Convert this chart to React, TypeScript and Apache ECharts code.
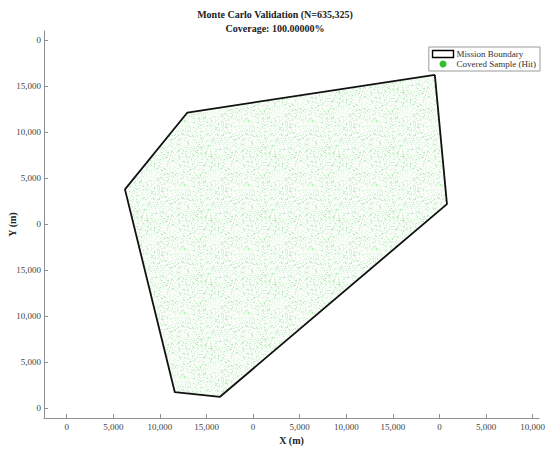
import React, { useEffect, useRef } from "react";
import * as echarts from "echarts";

// Mission boundary vertices (data units, metres)
const boundaryX = [39500, 40800, 16450, 11600, 6250, 12950];
const boundaryY = [36250, 22200, 1250, 1750, 23800, 32150];

// Tick positions and the labels printed at them
const xTickValues = [0, 5000, 10000, 15000, 20000, 25000, 30000, 35000, 40000, 45000, 50000];
const xTickLabels = ["0", "5,000", "10,000", "15,000", "0", "5,000", "10,000", "15,000", "0", "5,000", "10,000"];
const yTickValues = [0, 5000, 10000, 15000, 20000, 25000, 30000, 35000, 40000];
const yTickLabels = ["0", "5,000", "10,000", "15,000", "0", "5,000", "10,000", "15,000", "0"];

const xRange = [-2436, 50676];
const yRange = [-1054, 41011];

const titleText = "Monte Carlo Validation (N=635,325)";
const subTitleText = "Coverage: 100.00000%";
const boundaryName = "Mission Boundary";
const sampleName = "Covered Sample (Hit)";

const FONT = "'Liberation Serif', 'Times New Roman', serif";

function makeSpeckleTexture(): string {
  const size = 64;
  const c = document.createElement("canvas");
  c.width = size;
  c.height = size;
  const ctx = c.getContext("2d");
  if (!ctx) return "";
  ctx.fillStyle = "rgb(248,253,248)";
  ctx.fillRect(0, 0, size, size);
  for (let i = 0; i < size; i++) {
    for (let j = 0; j < size; j++) {
      let h = (Math.imul(i + 1, 73856093) ^ Math.imul(j + 7, 19349663)) >>> 0;
      h = Math.imul(h ^ (h >>> 13), 1274126177) >>> 0;
      const v = (h >>> 8) % 100;
      if (v < 26) {
        ctx.fillStyle = v < 5 ? "rgb(182,229,182)" : "rgb(222,243,222)";
        ctx.fillRect(i, j, 1, 1);
      }
    }
  }
  return c.toDataURL();
}

export default function App() {
  const ref = useRef<HTMLDivElement>(null);

  useEffect(() => {
    document.body.style.margin = "0";
    if (!ref.current) return;
    const chart = echarts.init(ref.current, undefined, { renderer: "svg" });
    const texture = makeSpeckleTexture();
    const vertices = boundaryX.map((x, i) => [x, boundaryY[i]]);
    const closed = [...vertices, vertices[0]];

    const axisCommon = {
      axisLine: { show: true, onZero: false, lineStyle: { color: "#8f8f8f", width: 1 } },
      axisTick: { show: true, inside: true, length: 4, lineStyle: { color: "#8f8f8f" } },
      splitLine: { show: false },
      nameMoveOverlap: false,
      nameTextStyle: { fontFamily: FONT, fontWeight: "bold" as const, fontSize: 10, color: "#222" },
    };

    chart.setOption({
      animation: false,
      backgroundColor: "#ffffff",
      title: {
        text: titleText + "\n" + subTitleText,
        left: "center",
        top: 3,
        textStyle: { fontFamily: FONT, fontWeight: "bold", fontSize: 10, lineHeight: 13.5, color: "#222" },
      },
      legend: {
        orient: "vertical",
        right: 10,
        top: 47,
        padding: [2, 4, 2, 3],
        itemGap: 0,
        itemWidth: 21,
        itemHeight: 7,
        borderColor: "#9a9a9a",
        borderWidth: 1,
        backgroundColor: "#fff",
        textStyle: { fontFamily: FONT, fontSize: 9, lineHeight: 10, color: "#333", padding: [0, 0, 0, -2] },
        data: [
          { name: boundaryName, icon: "rect", itemStyle: { color: "#fff", borderColor: "#000", borderWidth: 1.4 } },
          { name: sampleName, icon: "circle", itemStyle: { color: "#2fbf2f" } },
        ],
      },
      grid: { left: 44, right: 11, top: 31, bottom: 31, containLabel: false, outerBoundsMode: "none" },
      xAxis: {
        type: "value",
        min: xRange[0],
        max: xRange[1],
        name: "X (m)",
        nameLocation: "middle",
        nameGap: 17,
        ...axisCommon,
        axisTick: { ...axisCommon.axisTick, customValues: xTickValues },
        axisLabel: {
          customValues: xTickValues,
          margin: 4,
          fontFamily: FONT,
          fontSize: 9,
          color: "#444",
          formatter: (v: number) => {
            const i = xTickValues.indexOf(v);
            return i >= 0 ? xTickLabels[i] : "";
          },
        },
      },
      yAxis: {
        type: "value",
        min: yRange[0],
        max: yRange[1],
        name: "Y (m)",
        nameLocation: "middle",
        nameGap: 27,
        ...axisCommon,
        axisTick: { ...axisCommon.axisTick, customValues: yTickValues },
        axisLabel: {
          customValues: yTickValues,
          margin: 3,
          fontFamily: FONT,
          fontSize: 9,
          color: "#444",
          formatter: (v: number) => {
            const i = yTickValues.indexOf(v);
            return i >= 0 ? yTickLabels[i] : "";
          },
        },
      },
      series: [
        {
          name: sampleName,
          type: "custom",
          data: vertices,
          encode: { x: 0, y: 1 },
          z: 1,
          renderItem: (params: any, api: any) => {
            if (params.dataIndex !== 0) return null;
            const points = vertices.map((p) => api.coord(p));
            return {
              type: "polygon",
              shape: { points },
              style: { fill: { image: texture, repeat: "repeat" }, stroke: "none" },
            };
          },
        },
        {
          name: boundaryName,
          type: "line",
          data: closed,
          symbol: "none",
          showSymbol: false,
          z: 3,
          lineStyle: { color: "#111", width: 1.8 },
        },
      ],
    });
    return () => chart.dispose();
  }, []);

  return <div ref={ref} style={{ width: 550, height: 449 }} />;
}
